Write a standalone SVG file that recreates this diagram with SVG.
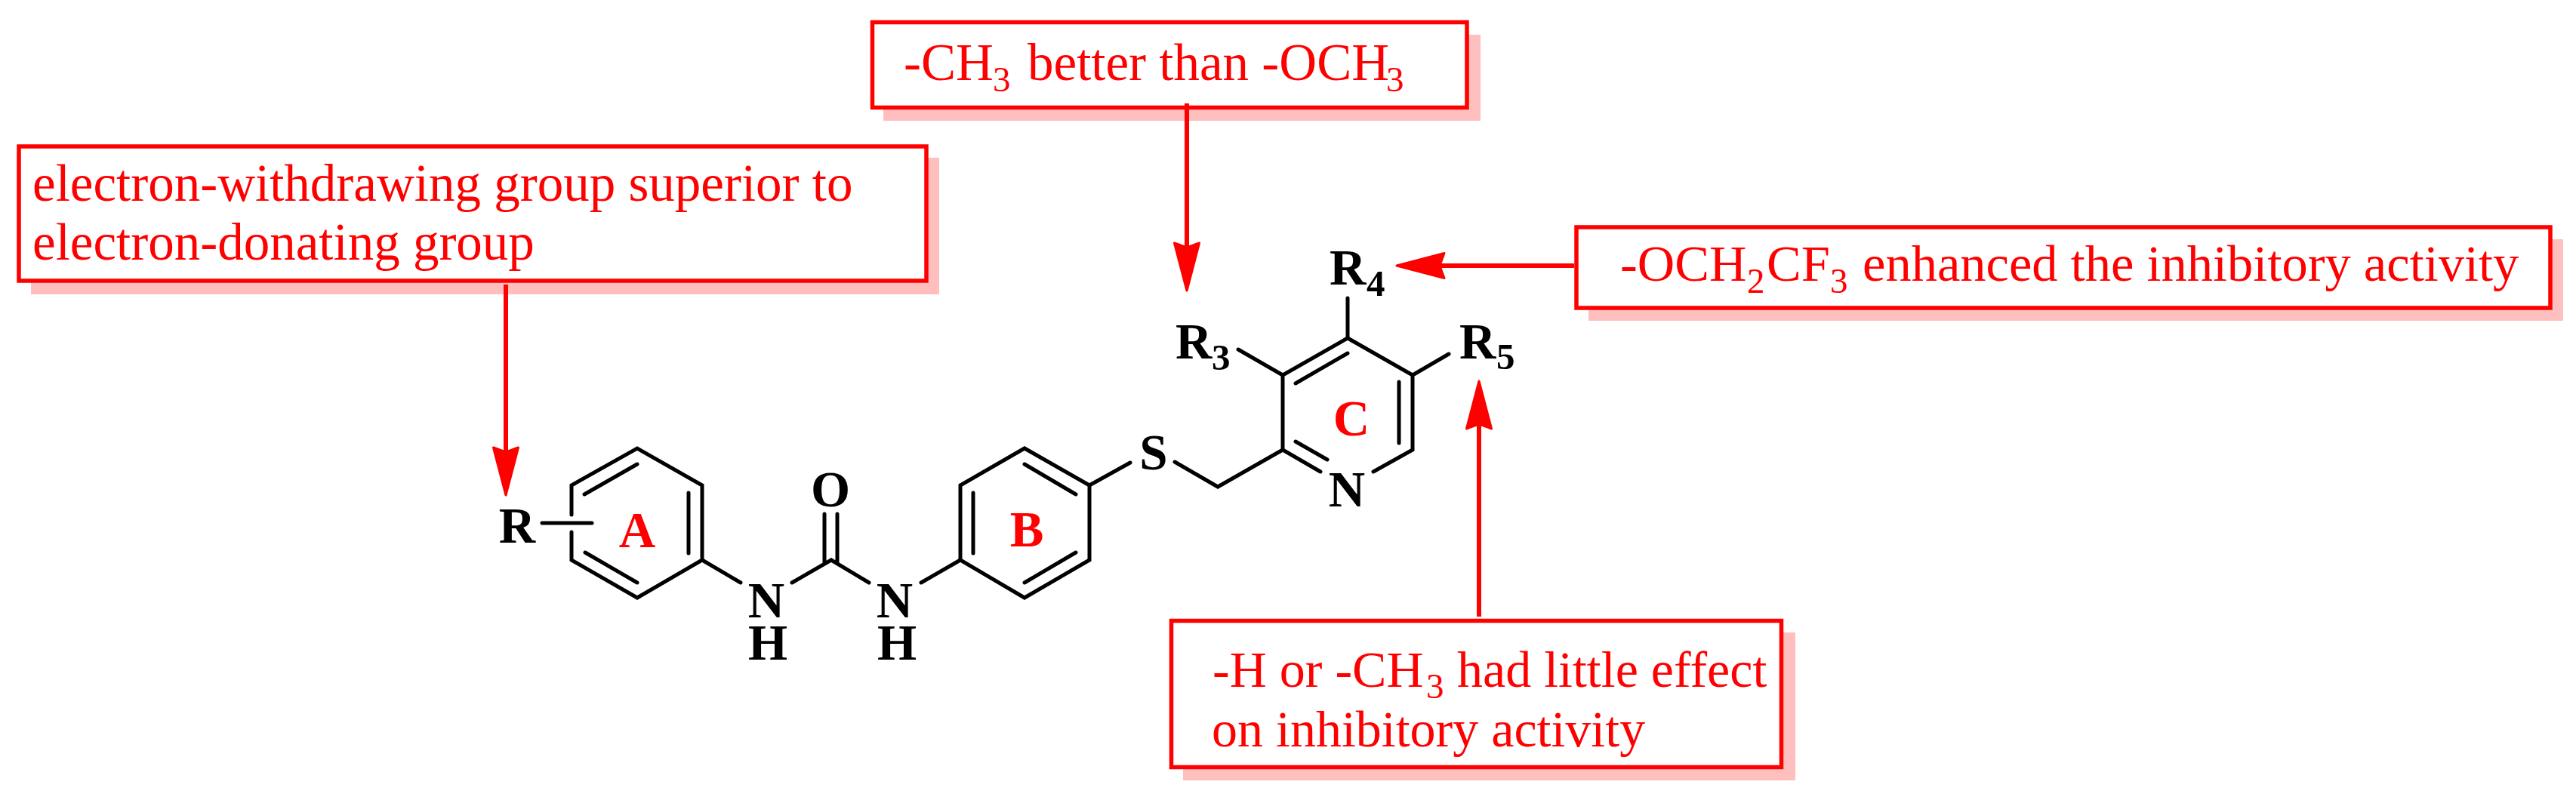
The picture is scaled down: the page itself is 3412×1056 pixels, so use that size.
<svg xmlns="http://www.w3.org/2000/svg" width="3412" height="1056" viewBox="0 0 3412 1056">
<defs>
<marker id="head" markerUnits="userSpaceOnUse" markerWidth="70" markerHeight="40" viewBox="-10 -20 70 40" refX="0" refY="0" orient="auto" overflow="visible"><path d="M57,0 L-6,-16.500 Q-2,-6 0,0 Q-2,6 -6,16.500 Z" fill="#f00" stroke="#f00" stroke-width="3" stroke-linejoin="round"/></marker>
</defs>
<style>
text{font-family:"Liberation Serif","Times New Roman",serif}
.a{font-size:67px;font-weight:bold;fill:#000;text-anchor:middle}
.s{font-size:49px;font-weight:bold;fill:#000}
.r{font-size:67px;font-weight:bold;fill:#f00;text-anchor:middle}
.t{font-size:69px;fill:#f00}
.t3{font-size:68.500px;fill:#f00}
.t4{font-size:68px;fill:#f00}
.ts{font-size:47px;fill:#f00}
.bond{fill:none;stroke:#000;stroke-width:5;stroke-linecap:round;stroke-linejoin:miter}
.shadow{fill:#ffbfbf}
.box{fill:#fff;stroke:#f00;stroke-width:5.500}
.arrow{fill:none;stroke:#f00;stroke-width:6;marker-end:url(#head)}
</style>
<rect width="3412" height="1056" fill="#fff"/>
<g id="molecule">
<g id="ring-A">
<path class="bond" d="M757,682V643L844,594L930,643V742L844,792L757,742V705M774,655L844,615M912,653V733M775,732L844,772"/>
<path class="bond" d="M718,693H784"/>
<text class="a" x="685" y="719">R</text>
<text class="r" x="844" y="725">A</text>
</g>
<g id="urea">
<path class="bond" d="M930,742L981,772M1049,772L1101,742L1151,772M1220,772L1272,742M1092,681V745M1109,681V745"/>
<text class="a" x="1100" y="671">O</text>
<text class="a" x="1015" y="818">N</text>
<text class="a" x="1017" y="874">H</text>
<text class="a" x="1185" y="818">N</text>
<text class="a" x="1188" y="874">H</text>
</g>
<g id="ring-B">
<path class="bond" d="M1357,594L1272,643V742L1357,792L1443,742V643ZM1289,653V733M1357,615L1425,655M1425,732L1357,772"/>
<text class="r" x="1360" y="724">B</text>
</g>
<g id="linker">
<path class="bond" d="M1443,643L1497,613M1556,612L1613,645L1699,596"/>
<text class="a" x="1528" y="622">S</text>
</g>
<g id="ring-C">
<path class="bond" d="M1749,625L1699,596V497L1785,448L1871,497V596L1819,625M1716,585L1758,609M1716,508L1785,468M1853,506V587M1785,448V395M1640,463L1699,497M1871,497L1919,469"/>
<text class="a" x="1784" y="671">N</text>
<text class="r" x="1790" y="577">C</text>
<text class="a" style="text-anchor:start" x="1761" y="377">R</text><text class="s" x="1810" y="392">4</text>
<text class="a" style="text-anchor:start" x="1557" y="475">R</text><text class="s" x="1605" y="490">3</text>
<text class="a" style="text-anchor:start" x="1933" y="475">R</text><text class="s" x="1982" y="489">5</text>
</g>
</g>
<g id="note-1">
<rect class="shadow" x="41" y="209" width="1203" height="181"/>
<rect class="box" x="25" y="194" width="1202" height="178"/>
<text class="t" x="43" y="266">electron-withdrawing group superior to</text>
<text class="t" x="43" y="344">electron-donating group</text>
</g>
<g id="note-2">
<rect class="shadow" x="1170" y="46" width="791" height="114"/>
<rect class="box" x="1155.500" y="29.500" width="787.500" height="113"/>
<text class="t" y="106"><tspan x="1197">-CH</tspan><tspan class="ts" x="1315" y="121">3</tspan><tspan x="1361" y="106">better than -OCH</tspan><tspan class="ts" x="1836" y="121">3</tspan></text>
</g>
<g id="note-3">
<rect class="shadow" x="2104" y="317" width="1291" height="108"/>
<rect class="box" x="2088" y="301" width="1290" height="107"/>
<text class="t3" y="372"><tspan x="2146">-OCH</tspan><tspan class="ts" x="2314" y="388">2</tspan><tspan x="2340" y="372">CF</tspan><tspan class="ts" x="2424" y="388">3</tspan><tspan x="2467" y="372">enhanced the inhibitory activity</tspan></text>
</g>
<g id="note-4">
<rect class="shadow" x="1567" y="838" width="811" height="196"/>
<rect class="box" x="1551.500" y="822.500" width="808" height="194"/>
<text class="t4" y="910"><tspan x="1606">-H or -CH</tspan><tspan class="ts" x="1889" y="925">3</tspan><tspan x="1930" y="910">had little effect</tspan></text>
<text class="t4" x="1605" y="989">on inhibitory activity</text>
</g>
<g id="connectors">
<path class="arrow" d="M670,377V599"/>
<path class="arrow" d="M1572,137V328"/>
<path class="arrow" d="M2085,352H1907"/>
<path class="arrow" d="M1959,817V562"/>
</g>
</svg>
